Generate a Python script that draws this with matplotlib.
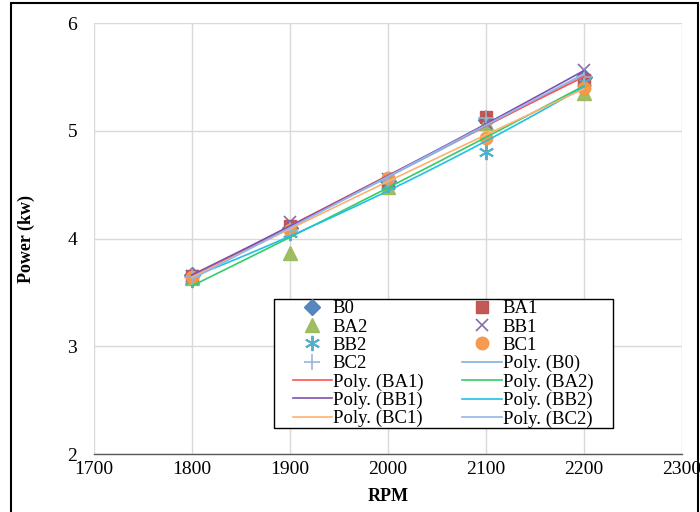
import numpy as np
import matplotlib
matplotlib.use("Agg")
import matplotlib.pyplot as plt
from matplotlib.patches import Rectangle

rpm = [1800, 1900, 2000, 2100, 2200]
series_names = ["B0", "BA1", "BA2", "BB1", "BB2", "BC1", "BC2"]
B0  = [3.66, 4.10, 4.53, 5.10, 5.50]
BA1 = [3.65, 4.12, 4.52, 5.13, 5.47]
BA2 = [3.63, 3.87, 4.48, 5.07, 5.35]
BB1 = [3.65, 4.15, 4.55, 5.07, 5.56]
BB2 = [3.62, 4.05, 4.50, 4.80, 5.45]
BC1 = [3.64, 4.08, 4.56, 4.93, 5.40]
BC2 = [3.64, 4.08, 4.54, 5.12, 5.50]
values = [B0, BA1, BA2, BB1, BB2, BC1, BC2]
x_ticks = [1700, 1800, 1900, 2000, 2100, 2200, 2300]
y_ticks = [2, 3, 4, 5, 6]

marker_styles = [
    dict(marker="D", color="#4F81BD", ms=8),
    dict(marker="s", color="#C0504D", ms=9),
    dict(marker="^", color="#9BBB59", ms=10),
    dict(marker="x", color="#8064A2", ms=9, mew=1.2),
    dict(marker=(6, 2, 0), color="#4BACC6", ms=11, mew=1.4),
    dict(marker="o", color="#F79646", ms=9),
    dict(marker="+", color="#95B3D7", ms=11, mew=1.2),
]
line_colors = ["#7FB2DC", "#FF5050", "#33CC66", "#7F50B0", "#20C0E8", "#FFB070", "#90B8E8"]

plt.rcParams["font.family"] = ["Liberation Serif", "DejaVu Serif"]

fig = plt.figure(figsize=(7.0, 5.12), dpi=100)
ax = fig.add_axes([0.134, 0.113, 0.84, 0.842])

handles = []
for name, vals, st in zip(series_names, values, marker_styles):
    h, = ax.plot(rpm, vals, linestyle="none", label=name, alpha=0.95,
                 marker=st["marker"], color=st["color"], ms=st["ms"],
                 mew=st.get("mew", 1.0), zorder=3)
    handles.append(h)

xs = np.linspace(rpm[0], rpm[-1], 100)
for name, vals, c in zip(series_names, values, line_colors):
    coef = np.polyfit(rpm, vals, 2)
    h, = ax.plot(xs, np.polyval(coef, xs), color=c, lw=1.2,
                 label="Poly. (%s)" % name, zorder=4)
    handles.append(h)

ax.set_xlim(1700, 2300)
ax.set_ylim(2, 6)
ax.set_xticks(x_ticks)
ax.set_yticks(y_ticks)
ax.grid(True, color="#D9D9D9", lw=1.0)
ax.set_axisbelow(True)
for s in ["top", "right", "left"]:
    ax.spines[s].set_visible(False)
ax.spines["bottom"].set_color("#595959")
ax.spines["bottom"].set_linewidth(1.0)
ax.tick_params(length=0, labelsize=14)
ax.tick_params(axis="x", pad=5)
ax.tick_params(axis="y", pad=12)
ax.set_xlabel("RPM", fontsize=13, fontweight="bold")
ax.set_ylabel("Power (kw)", fontsize=13, fontweight="bold")
ax.xaxis.set_label_coords(0.5, -0.078)
ax.yaxis.set_label_coords(-0.10, 0.5)

# legend frame drawn as a white box with black edge
ax.add_patch(Rectangle((0.306, 0.0603), 0.577, 0.2993, transform=ax.transAxes,
                       facecolor="white", edgecolor="black", lw=1.0, zorder=5))

order = [0, 2, 4, 6, 8, 10, 12, 1, 3, 5, 7, 9, 11, 13]
hs = [handles[i] for i in order]
leg = ax.legend(hs, [h.get_label() for h in hs], ncol=2, loc="upper left",
                bbox_to_anchor=(0.338, 0.357), fontsize=13.5, frameon=False,
                borderpad=0.0, labelspacing=0.06, handlelength=2.1,
                handletextpad=0.05, columnspacing=2.08, borderaxespad=0)
leg.set_zorder(6)

fig.patches.append(Rectangle((11 / 700, -0.05), 687 / 700, 1.05 - 3 / 512,
                             transform=fig.transFigure, fill=False,
                             edgecolor="black", lw=1.5))

fig.savefig("out.png", dpi=100)
